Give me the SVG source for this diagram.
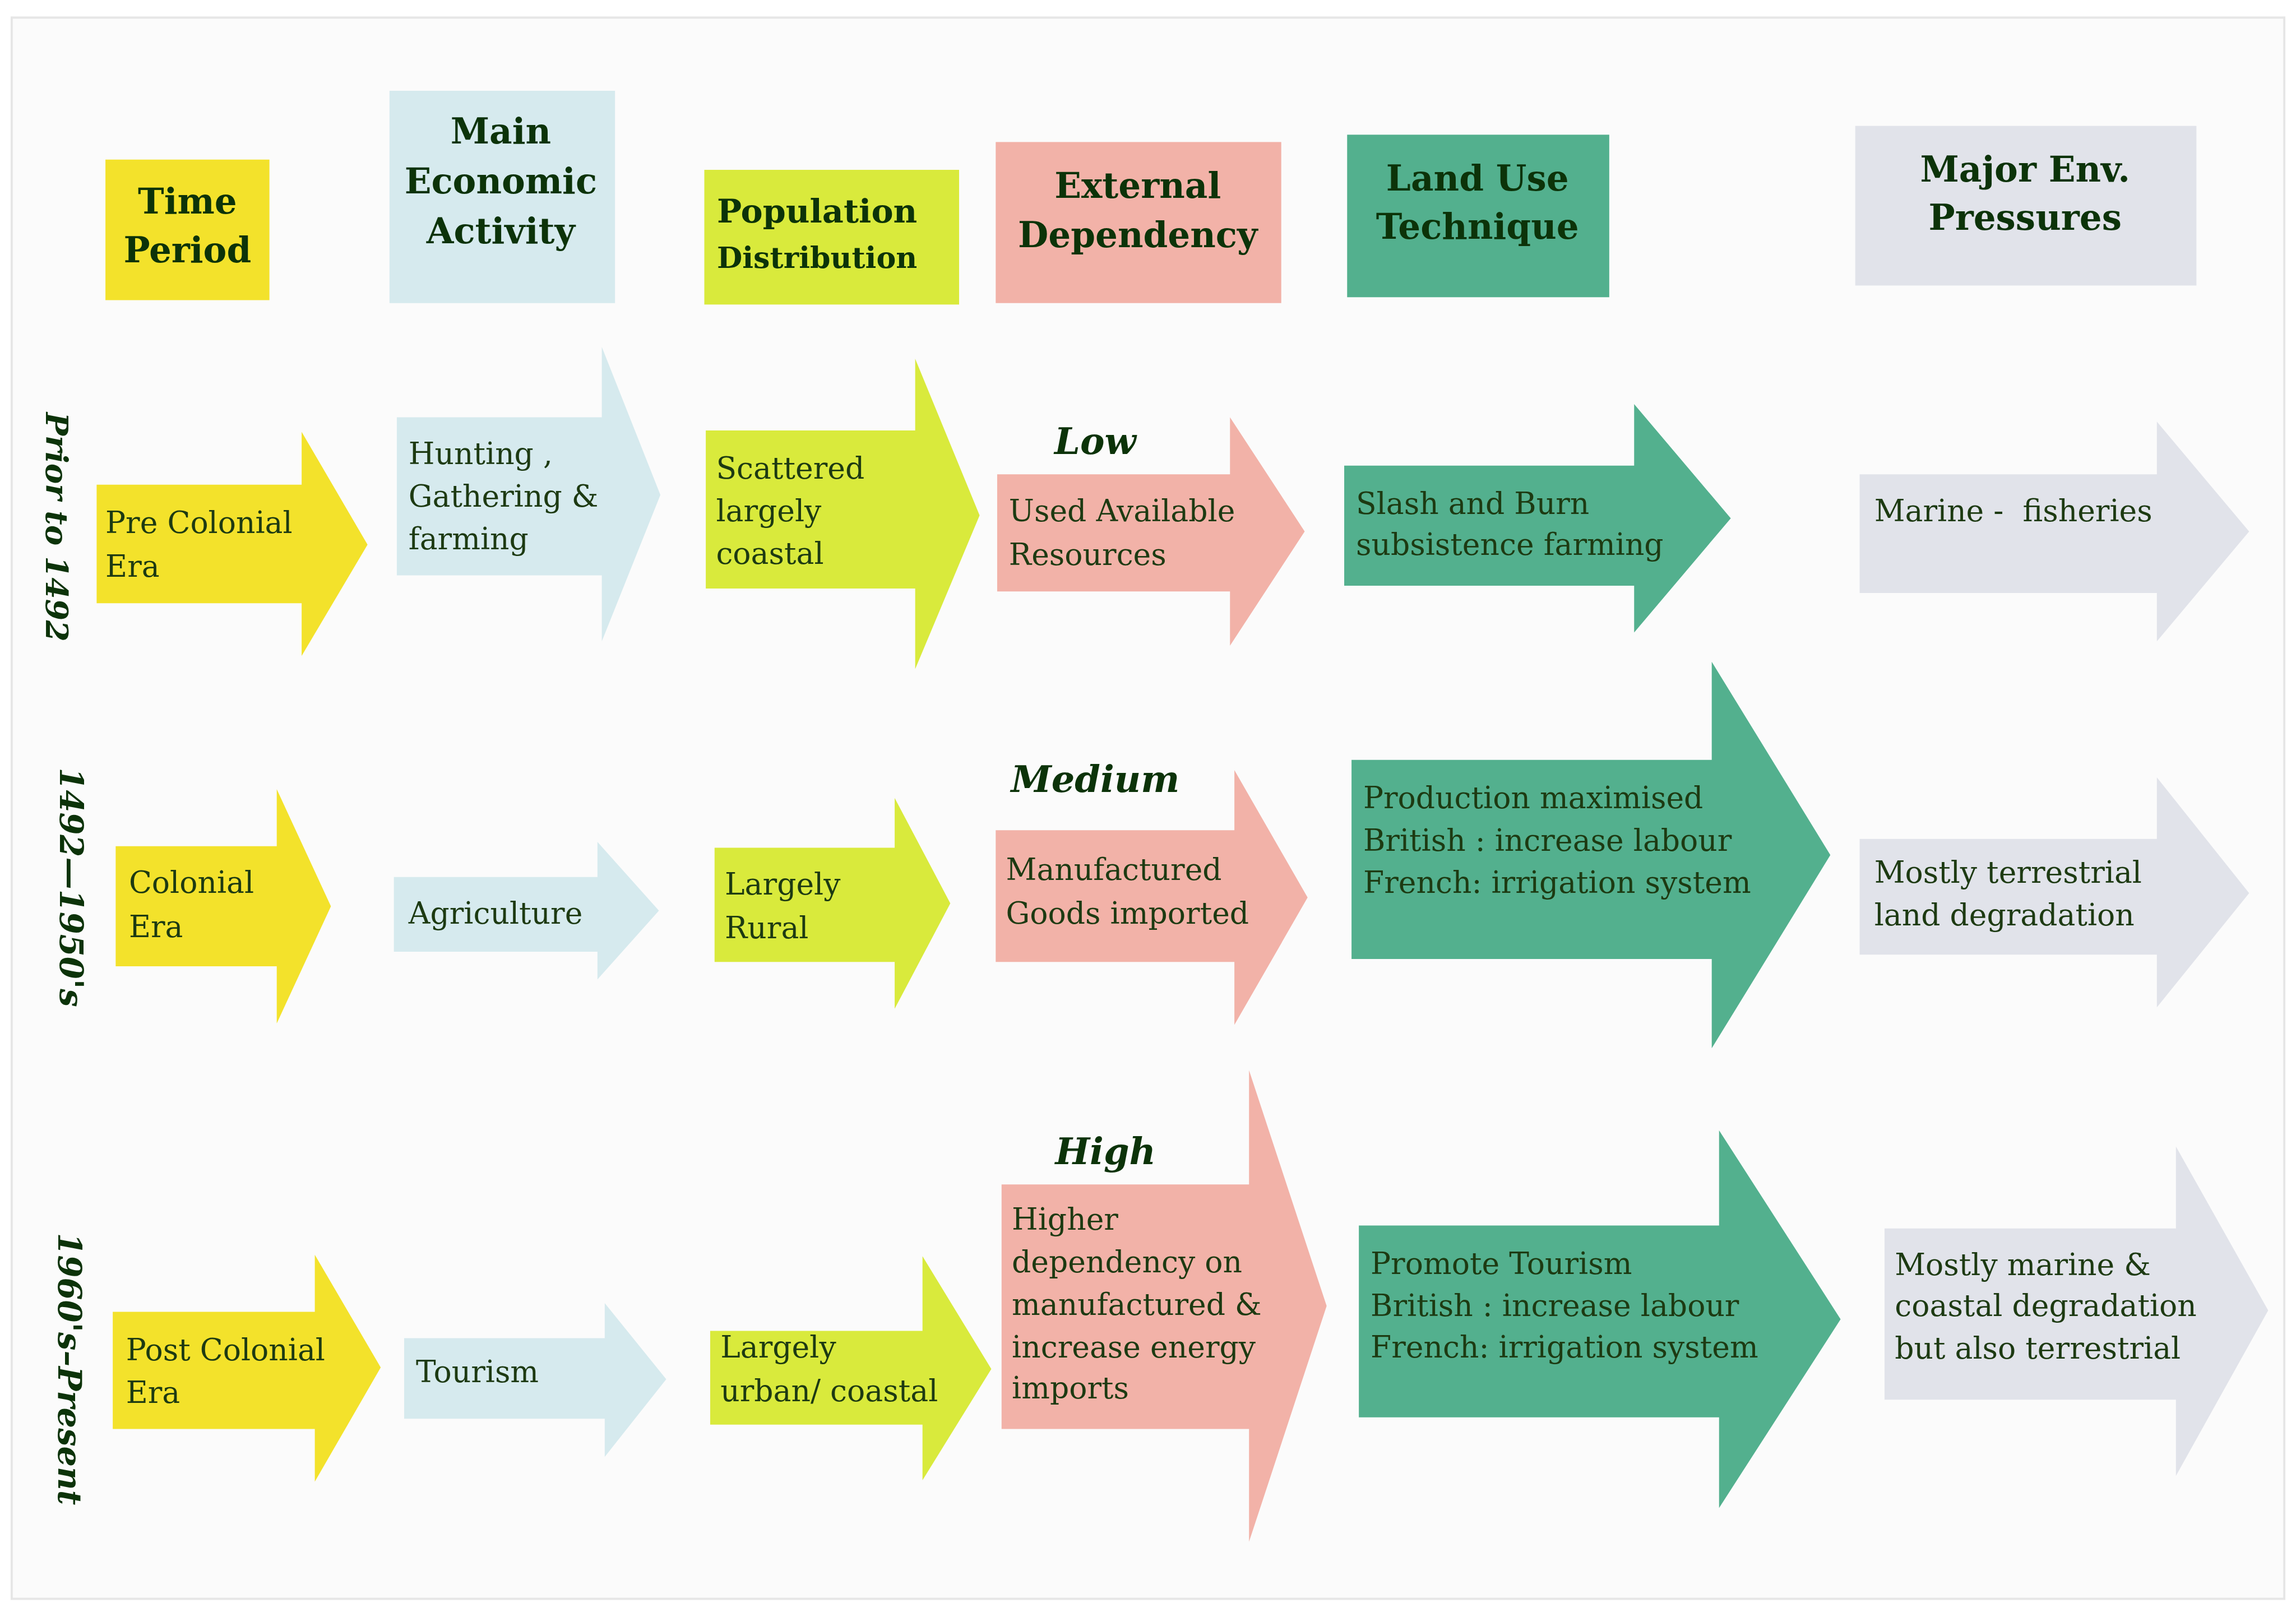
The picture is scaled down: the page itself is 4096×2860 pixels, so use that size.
<svg xmlns="http://www.w3.org/2000/svg" width="4096" height="2860" viewBox="0 0 4096 2860">
<style>
.bg{fill:#ffffff}
.frame{fill:#fbfbfb;stroke:#e6e6e6;stroke-width:1.5}
.yel{fill:#f3e22b}
.blu{fill:#d6eaee}
.lim{fill:#d9ea3c}
.pnk{fill:#f2b2a8}
.tea{fill:#53b08e}
.gry{fill:#e1e3ea}
.hdr{font-family:"DejaVu Serif","Liberation Serif",serif;font-weight:bold;font-size:24px;fill:#0c3309;text-anchor:middle}
.txt{font-family:"DejaVu Serif","Liberation Serif",serif;font-size:20.5px;fill:#1d3a12}
.lvl{font-family:"DejaVu Serif","Liberation Serif",serif;font-weight:bold;font-style:italic;font-size:25px;fill:#0c3309;text-anchor:middle}
.era{font-family:"DejaVu Serif","Liberation Serif",serif;font-weight:bold;font-style:italic;font-size:21px;fill:#0c3309;text-anchor:middle}
</style>
<rect class="bg" x="0" y="0" width="4096" height="2860"/>
<g transform="scale(2.61224)">
<rect class="frame" x="8" y="12" width="1552" height="1080"/>

<!-- Header nodes -->
<g id="hdr-time">
<rect class="yel" x="72" y="109" width="112" height="96"/>
<text class="hdr" x="128" y="146">Time</text>
<text class="hdr" x="128" y="179">Period</text>
</g>
<g id="hdr-econ">
<rect class="blu" x="266" y="62" width="154" height="145"/>
<text class="hdr" x="342" y="98">Main</text>
<text class="hdr" x="342" y="132">Economic</text>
<text class="hdr" x="342" y="166">Activity</text>
</g>
<g id="hdr-pop">
<rect class="lim" x="481" y="116" width="174" height="92"/>
<text class="hdr" x="558" y="152" style="font-size:22.5px">Population</text>
<text class="hdr" x="558" y="183" style="font-size:20px">Distribution</text>
</g>
<g id="hdr-ext">
<rect class="pnk" x="680" y="97" width="195" height="110"/>
<text class="hdr" x="777" y="135">External</text>
<text class="hdr" x="777" y="169">Dependency</text>
</g>
<g id="hdr-land">
<rect class="tea" x="920" y="92" width="179" height="111"/>
<text class="hdr" x="1009" y="130">Land Use</text>
<text class="hdr" x="1009" y="163">Technique</text>
</g>
<g id="hdr-env">
<rect class="gry" x="1267" y="86" width="233" height="109"/>
<text class="hdr" x="1383" y="124">Major Env.</text>
<text class="hdr" x="1383" y="157">Pressures</text>
</g>

<!-- Row labels -->
<g id="era-1">
<text class="era" x="31.5" y="360" transform="rotate(90 31.5 360)">Prior to 1492</text>
</g>
<g id="era-2">
<text class="era" x="41" y="606" style="font-size:22px" transform="rotate(90 41 606)">1492—1950's</text>
</g>
<g id="era-3">
<text class="era" x="40" y="935" style="font-size:22px" transform="rotate(90 40 935)">1960's–Present</text>
</g>

<!-- Row 1 -->
<g id="r1-time">
<path class="yel" d="M66,331 L206,331 L206,295 L251,372 L206,448 L206,412 L66,412 Z"/>
<text class="txt" x="72" y="364">Pre Colonial</text>
<text class="txt" x="72" y="394">Era</text>
</g>
<g id="r1-econ">
<path class="blu" d="M271,285 L411,285 L411,237 L451,338 L411,438 L411,393 L271,393 Z"/>
<text class="txt" x="279" y="317">Hunting ,</text>
<text class="txt" x="279" y="346">Gathering &amp;</text>
<text class="txt" x="279" y="375">farming</text>
</g>
<g id="r1-pop">
<path class="lim" d="M482,294 L625,294 L625,245 L669,352 L625,457 L625,402 L482,402 Z"/>
<text class="txt" x="489" y="327">Scattered</text>
<text class="txt" x="489" y="356">largely</text>
<text class="txt" x="489" y="385">coastal</text>
</g>
<g id="r1-ext">
<text class="lvl" x="748" y="310">Low</text>
<path class="pnk" d="M681,324 L840,324 L840,285 L891,363 L840,441 L840,404 L681,404 Z"/>
<text class="txt" x="689" y="356">Used Available</text>
<text class="txt" x="689" y="386">Resources</text>
</g>
<g id="r1-land">
<path class="tea" d="M918,318 L1116,318 L1116,276 L1182,354 L1116,432 L1116,400 L918,400 Z"/>
<text class="txt" x="926" y="351">Slash and Burn</text>
<text class="txt" x="926" y="379">subsistence farming</text>
</g>
<g id="r1-env">
<path class="gry" d="M1270,324 L1473,324 L1473,288 L1536,363 L1473,438 L1473,405 L1270,405 Z"/>
<text class="txt" x="1280" y="356" xml:space="preserve">Marine -  fisheries</text>
</g>

<!-- Row 2 -->
<g id="r2-time">
<path class="yel" d="M79,578 L189,578 L189,539 L226,619 L189,699 L189,660 L79,660 Z"/>
<text class="txt" x="88" y="610">Colonial</text>
<text class="txt" x="88" y="640">Era</text>
</g>
<g id="r2-econ">
<path class="blu" d="M269,599 L408,599 L408,575 L450,622 L408,669 L408,650 L269,650 Z"/>
<text class="txt" x="279" y="631">Agriculture</text>
</g>
<g id="r2-pop">
<path class="lim" d="M488,579 L611,579 L611,545 L649,617 L611,689 L611,657 L488,657 Z"/>
<text class="txt" x="495" y="611">Largely</text>
<text class="txt" x="495" y="641">Rural</text>
</g>
<g id="r2-ext">
<text class="lvl" x="748" y="541">Medium</text>
<path class="pnk" d="M680,567 L843,567 L843,526 L893,613 L843,700 L843,657 L680,657 Z"/>
<text class="txt" x="687" y="601">Manufactured</text>
<text class="txt" x="687" y="631">Goods imported</text>
</g>
<g id="r2-land">
<path class="tea" d="M923,519 L1169,519 L1169,452 L1250,584 L1169,716 L1169,655 L923,655 Z"/>
<text class="txt" x="931" y="552">Production maximised</text>
<text class="txt" x="931" y="581">British : increase labour</text>
<text class="txt" x="931" y="610">French: irrigation system</text>
</g>
<g id="r2-env">
<path class="gry" d="M1270,573 L1473,573 L1473,531 L1536,610 L1473,688 L1473,652 L1270,652 Z"/>
<text class="txt" x="1280" y="603">Mostly terrestrial</text>
<text class="txt" x="1280" y="632">land degradation</text>
</g>

<!-- Row 3 -->
<g id="r3-time">
<path class="yel" d="M77,896 L215,896 L215,857 L260,934 L215,1012 L215,976 L77,976 Z"/>
<text class="txt" x="86" y="929">Post Colonial</text>
<text class="txt" x="86" y="958">Era</text>
</g>
<g id="r3-econ">
<path class="blu" d="M276,914 L413,914 L413,890 L455,942 L413,995 L413,969 L276,969 Z"/>
<text class="txt" x="284" y="944">Tourism</text>
</g>
<g id="r3-pop">
<path class="lim" d="M485,909 L630,909 L630,858 L677,935 L630,1011 L630,973 L485,973 Z"/>
<text class="txt" x="492" y="927">Largely</text>
<text class="txt" x="492" y="957">urban/ coastal</text>
</g>
<g id="r3-ext">
<text class="lvl" x="755" y="795">High</text>
<path class="pnk" d="M684,809 L853,809 L853,731 L906,892 L853,1053 L853,976 L684,976 Z"/>
<text class="txt" x="691" y="840">Higher</text>
<text class="txt" x="691" y="869">dependency on</text>
<text class="txt" x="691" y="898">manufactured &amp;</text>
<text class="txt" x="691" y="927">increase energy</text>
<text class="txt" x="691" y="955">imports</text>
</g>
<g id="r3-land">
<path class="tea" d="M928,837 L1174,837 L1174,772 L1257,901 L1174,1030 L1174,968 L928,968 Z"/>
<text class="txt" x="936" y="870">Promote Tourism</text>
<text class="txt" x="936" y="899">British : increase labour</text>
<text class="txt" x="936" y="927">French: irrigation system</text>
</g>
<g id="r3-env">
<path class="gry" d="M1287,839 L1486,839 L1486,783 L1549,895 L1486,1008 L1486,956 L1287,956 Z"/>
<text class="txt" x="1294" y="871">Mostly marine &amp;</text>
<text class="txt" x="1294" y="899">coastal degradation</text>
<text class="txt" x="1294" y="928">but also terrestrial</text>
</g>

<g id="connectors"></g>
</g>
</svg>
